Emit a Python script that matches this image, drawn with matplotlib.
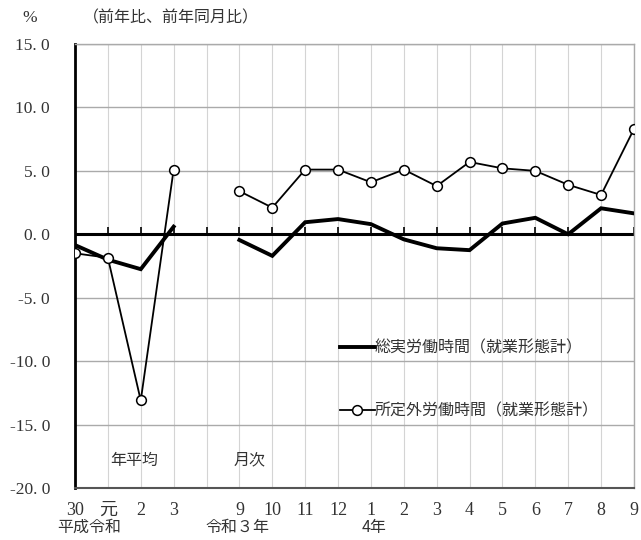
import numpy as np
import matplotlib
matplotlib.use("Agg")
import matplotlib.pyplot as plt

plt.rcParams['font.family'] = ['Noto Sans CJK JP', 'DejaVu Sans']

# Category labels (index 4 is an empty spacer between annual and monthly data)
tick_labels = ["30", "元", "2", "3", "", "9", "10", "11", "12", "1", "2", "3",
               "4", "5", "6", "7", "8", "9"]

# 総実労働時間（就業形態計）, % change
total_hours = [-0.85, -2.0, -2.75, 0.6, np.nan, -0.45, -1.7, 0.95, 1.2, 0.8,
               -0.4, -1.1, -1.25, 0.85, 1.3, 0.0, 2.05, 1.65]
# 所定外労働時間（就業形態計）, % change
overtime_hours = [-1.5, -1.85, -13.1, 5.1, np.nan, 3.4, 2.1, 5.1, 5.1, 4.1,
                  5.1, 3.8, 5.7, 5.2, 5.0, 3.9, 3.1, 8.3]

series_labels = ["総実労働時間（就業形態計）", "所定外労働時間（就業形態計）"]
y_ticks = [15.0, 10.0, 5.0, 0.0, -5.0, -10.0, -15.0, -20.0]

x = np.arange(len(tick_labels))
txt = "#333333"
num_font = "Liberation Serif"

fig = plt.figure(figsize=(6.41, 5.40), dpi=100)
ax = fig.add_axes([0.117, 0.0963, 0.872, 0.8222])
ax.set_xlim(0, len(tick_labels) - 1)
ax.set_ylim(-20, 15)

# grid
ax.set_yticks(y_ticks)
ax.set_xticks(x)
ax.grid(axis='y', color='#aaaaaa', linewidth=1.0)
ax.grid(axis='x', color='#d4d4d4', linewidth=0.8)
ax.set_axisbelow(True)
ax.tick_params(axis='both', length=0)
ax.set_yticklabels([f"{v:.1f}".replace(".", ". ") for v in y_ticks],
                   fontfamily=num_font, fontsize=12.5, color=txt)
ax.tick_params(axis='y', pad=18)
ax.set_xticklabels([])

for s in ['top', 'right']:
    ax.spines[s].set_color('#aaaaaa')
    ax.spines[s].set_linewidth(1.0)
ax.spines['left'].set_color('black')
ax.spines['left'].set_linewidth(2.0)
ax.spines['bottom'].set_color('#555555')
ax.spines['bottom'].set_linewidth(1.5)

# zero line with short upward ticks at each category
ax.axhline(0, color='black', linewidth=2.2, zorder=2)
ax.plot(x, np.zeros(len(x)), linestyle='none', marker=2, markersize=5,
        markeredgewidth=1.2, color='black', zorder=2)

l1, = ax.plot(x, total_hours, color='black', linewidth=2.8,
              solid_joinstyle='miter', label=series_labels[0], zorder=3)
l2, = ax.plot(x, overtime_hours, color='black', linewidth=1.3, marker='o',
              markersize=7, markerfacecolor='white', markeredgecolor='black',
              markeredgewidth=1.1, label=series_labels[1], zorder=4)

ax.legend(handles=[l1, l2], frameon=False, loc='upper left',
          bbox_to_anchor=(0.448, 0.367), fontsize=11.5, labelspacing=2.9,
          handlelength=2.2, handletextpad=0.0, labelcolor=txt)

# x labels
for xi, lab in zip(x, tick_labels):
    if lab:
        fam = num_font if lab != "元" else None
        ax.text(xi, -21.75, lab, ha='center', va='center', fontsize=13,
                color=txt, **({'fontfamily': fam} if fam else {}))
ax.text(0.43, -23.1, "平成令和", ha='center', va='center', fontsize=11.5, color=txt)
ax.text(4.95, -23.1, "令和３年", ha='center', va='center', fontsize=11.5, color=txt)
ax.text(9.1, -23.1, "4年", ha='center', va='center', fontsize=11.5, color=txt)

ax.text(1.8, -17.8, "年平均", ha='center', va='center', fontsize=11.5, color=txt)
ax.text(5.3, -17.8, "月次", ha='center', va='center', fontsize=11.5, color=txt)

fig.text(30 / 641, 1 - 18 / 540, "%", ha='center', va='center',
         fontfamily=num_font, fontsize=12.5, color=txt)
fig.text(83 / 641, 1 - 18 / 540, "（前年比、前年同月比）", ha='left', va='center',
         fontsize=11.5, color=txt)

fig.savefig("out.png", dpi=100)
